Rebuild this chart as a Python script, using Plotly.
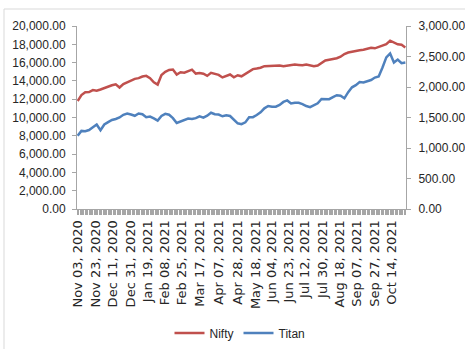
import pandas as pd
import plotly.graph_objects as go

# ---- data ----
start_date = "2020-11-03"
end_date = "2021-10-29"
sample_step = 3  # values read every 3rd trading day

tick_labels = [
    "Nov 03, 2020", "Nov 23, 2020", "Dec 11, 2020", "Dec 31, 2020", "Jan 19, 2021",
    "Feb 08, 2021", "Feb 25, 2021", "Mar 17, 2021", "Apr 07, 2021", "Apr 28, 2021",
    "May 18, 2021", "Jun 04, 2021", "Jun 23, 2021", "Jul 12, 2021", "Jul 30, 2021",
    "Aug 18, 2021", "Sep 07, 2021", "Sep 27, 2021", "Oct 14, 2021",
]

nifty = [
    11800, 12450, 12750, 12780, 13000, 12920, 13060, 13240, 13400, 13520,
    13630, 13280, 13650, 13870, 14080, 14220, 14300, 14480, 14550, 14300,
    13850, 13600, 14650, 15000, 15200, 15250, 14700, 14950, 14900, 15100,
    15230, 14800, 14870, 14780, 14550, 14880, 14780, 14660, 14380, 14580,
    14700, 14400, 14620, 14500, 14750, 15070, 15290, 15360, 15440, 15610,
    15630, 15690, 15690, 15690, 15600, 15680, 15700, 15780, 15750, 15720,
    15800, 15720, 15610, 15680, 15950, 16230, 16310, 16390, 16480, 16640,
    16940, 17100, 17200, 17280, 17350, 17400, 17510, 17620, 17560, 17720,
    17880, 18020, 18400, 18180, 18000, 17950, 17650,
]

titan = [
    1200, 1280, 1275, 1295, 1340, 1385, 1290, 1385, 1425, 1460,
    1475, 1500, 1545, 1565, 1548, 1528, 1565, 1555, 1505, 1515,
    1485, 1450, 1525, 1560, 1545, 1490, 1410, 1435, 1467, 1483,
    1475, 1490, 1518, 1498, 1530, 1578, 1553, 1548, 1520, 1538,
    1525, 1460, 1405, 1390, 1420, 1505, 1505, 1540, 1585, 1650,
    1688, 1675, 1678, 1705, 1755, 1780, 1730, 1740, 1740, 1720,
    1688, 1670, 1703, 1732, 1805, 1805, 1800, 1835, 1865, 1858,
    1815, 1915, 1995, 2030, 2080, 2075, 2090, 2115, 2155, 2173,
    2320, 2485, 2550, 2400, 2450, 2390, 2400,
]

# ---- category axis (trading days) ----
all_days = pd.bdate_range(start_date, end_date)
categories = [d.strftime("%b %d, %Y") for d in all_days]
sample_days = categories[::sample_step]
tick_text = [c if c in tick_labels else "" for c in categories]

RED = "#C0504D"
BLUE = "#4F81BD"
AXIS = "#A6A6A6"
TXT = "#262626"

fig = go.Figure()
fig.add_trace(go.Scatter(x=sample_days, y=nifty, name="Nifty", mode="lines",
                         line=dict(color=RED, width=2.5), yaxis="y"))
fig.add_trace(go.Scatter(x=sample_days, y=titan, name="Titan", mode="lines",
                         line=dict(color=BLUE, width=2.5), yaxis="y2"))

W, H = 465, 349
ml, mr, mt, mb = 77, 59, 26, 140
pw = W - ml - mr
ph = H - mt - mb

fig.update_layout(
    template="none",
    width=W, height=H,
    margin=dict(l=ml, r=mr, t=mt, b=mb, pad=0, autoexpand=False),
    paper_bgcolor="white", plot_bgcolor="white",
    showlegend=True,
    legend=dict(orientation="h", x=(240 - ml) / pw, xanchor="center",
                y=(H - mb - 333) / ph, yanchor="middle",
                font=dict(family="Liberation Sans, Arial", size=12, color=TXT),
                bgcolor="rgba(0,0,0,0)", borderwidth=0),
    xaxis=dict(type="category", categoryorder="array", categoryarray=categories,
               range=[-0.5, len(categories) - 0.5], automargin=False,
               tickmode="array", tickvals=categories, ticktext=tick_text,
               tickangle=-90, ticks="outside", ticklen=5, tickcolor=AXIS, tickwidth=1,
               showline=True, linecolor=AXIS, linewidth=1,
               showgrid=False, zeroline=False,
               tickfont=dict(family="DejaVu Sans", size=13, color=TXT)),
    yaxis=dict(range=[0, 20000], dtick=2000, tickformat=",.2f", automargin=False,
               ticks="outside", ticklen=4, tickcolor=AXIS, tickwidth=1,
               showline=True, linecolor=AXIS, linewidth=1,
               showgrid=False, zeroline=False, ticklabelstandoff=4,
               tickfont=dict(family="Liberation Sans, Arial", size=12, color=TXT)),
    yaxis2=dict(range=[0, 3000], dtick=500, tickformat=",.2f", automargin=False,
                overlaying="y", side="right", anchor="x",
                ticks="outside", ticklen=4, tickcolor=AXIS, tickwidth=1,
                showline=True, linecolor=AXIS, linewidth=1,
                showgrid=False, zeroline=False, ticklabelstandoff=5,
                tickfont=dict(family="Liberation Sans, Arial", size=12, color=TXT)),
    shapes=[dict(type="rect", xref="paper", yref="paper",
                 x0=(4 - ml) / pw, x1=(W + 10 - ml) / pw,
                 y0=(H - mb - (H + 10)) / ph, y1=(H - mb - 9) / ph,
                 line=dict(color="#D9D9D9", width=1), fillcolor="rgba(0,0,0,0)",
                 layer="below")],
)

fig.write_html("out.html")
